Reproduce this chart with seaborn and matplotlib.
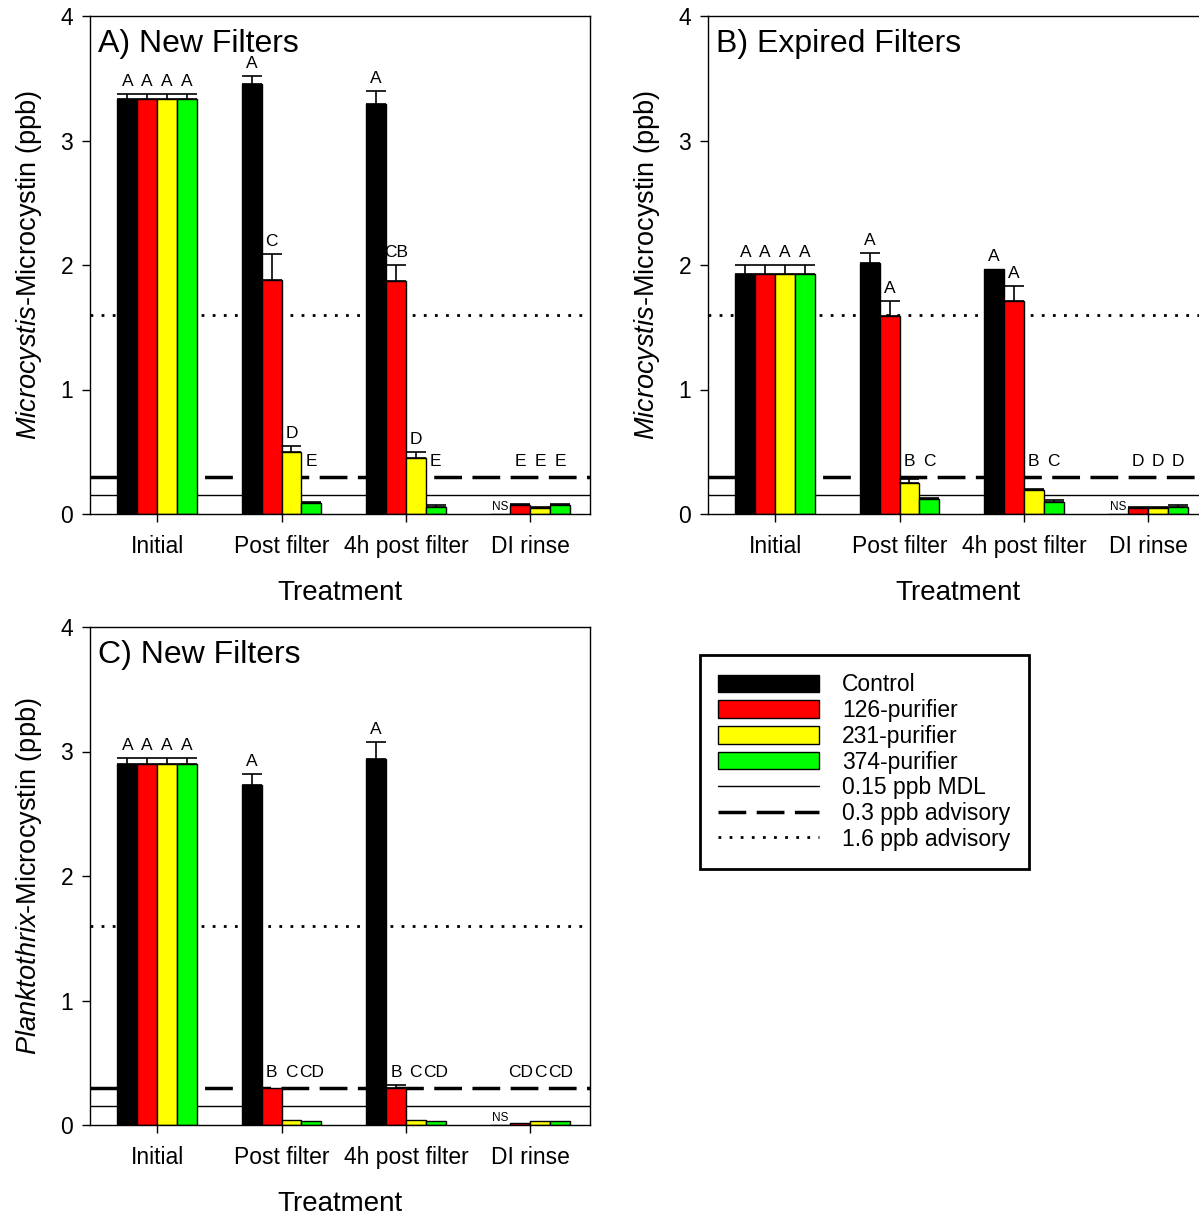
import numpy as np
import pandas as pd
import matplotlib
matplotlib.use('Agg')
import matplotlib.pyplot as plt
from matplotlib.patches import Patch
from matplotlib.lines import Line2D
import seaborn as sns

sns.set_style('ticks')
plt.rcParams['font.family'] = ['Liberation Sans', 'DejaVu Sans']
plt.rcParams['mathtext.fontset'] = 'custom'
plt.rcParams['mathtext.rm'] = 'Liberation Sans'
plt.rcParams['mathtext.it'] = 'Liberation Sans:italic'
plt.rcParams['text.color'] = 'black'
plt.rcParams['axes.labelcolor'] = 'black'
plt.rcParams['xtick.color'] = 'black'
plt.rcParams['ytick.color'] = 'black'

treatments = ['Initial', 'Post filter', '4h post filter', 'DI rinse']
filters = ['Control', '126-purifier', '231-purifier', '374-purifier']
colors = ['#000000', '#ff0000', '#ffff00', '#00ff00']

# reference levels (ppb)
mdl = 0.15
advisory_low = 0.3
advisory_high = 1.6

# rows = filter, columns = treatment
# A) Microcystis, new filters
a_vals = [[3.33, 3.45, 3.29, 0.00],
          [3.33, 1.88, 1.87, 0.07],
          [3.33, 0.50, 0.45, 0.05],
          [3.33, 0.09, 0.06, 0.07]]
a_err = [[0.04, 0.07, 0.11, 0.0],
         [0.04, 0.21, 0.13, 0.01],
         [0.04, 0.05, 0.05, 0.01],
         [0.04, 0.01, 0.01, 0.01]]
a_letters = [['A', 'A', 'A', 'NS'],
             ['A', 'C', 'CB', 'E'],
             ['A', 'D', 'D', 'E'],
             ['A', 'E', 'E', 'E']]

# B) Microcystis, expired filters
b_vals = [[1.93, 2.02, 1.97, 0.00],
          [1.93, 1.59, 1.71, 0.05],
          [1.93, 0.25, 0.19, 0.05],
          [1.93, 0.12, 0.10, 0.06]]
b_err = [[0.07, 0.08, 0.0, 0.0],
         [0.07, 0.12, 0.12, 0.01],
         [0.07, 0.03, 0.01, 0.01],
         [0.07, 0.01, 0.01, 0.01]]
b_letters = [['A', 'A', 'A', 'NS'],
             ['A', 'A', 'A', 'D'],
             ['A', 'B', 'B', 'D'],
             ['A', 'C', 'C', 'D']]

# C) Planktothrix, new filters
c_vals = [[2.90, 2.73, 2.94, 0.00],
          [2.90, 0.30, 0.30, 0.02],
          [2.90, 0.04, 0.04, 0.03],
          [2.90, 0.03, 0.03, 0.03]]
c_err = [[0.05, 0.09, 0.14, 0.0],
         [0.05, 0.0, 0.02, 0.0],
         [0.05, 0.0, 0.0, 0.0],
         [0.05, 0.0, 0.0, 0.0]]
c_letters = [['A', 'A', 'A', 'NS'],
             ['A', 'B', 'B', 'CD'],
             ['A', 'C', 'C', 'C'],
             ['A', 'CD', 'CD', 'CD']]


def draw_panel(ax, vals, errs, letters, title, ylabel):
    rows = []
    for fi, f in enumerate(filters):
        for ti, t in enumerate(treatments):
            rows.append({'Treatment': t, 'Filter': f, 'value': vals[fi][ti]})
    df = pd.DataFrame(rows)
    sns.barplot(data=df, x='Treatment', y='value', hue='Filter',
                order=treatments, hue_order=filters, palette=colors,
                width=0.64, gap=0, edgecolor='black', linewidth=1,
                saturation=1, errorbar=None, legend=False, ax=ax, zorder=2)

    bar_groups = list(ax.containers)
    for fi, cont in enumerate(bar_groups):
        for ti, bar in enumerate(cont.patches):
            x = bar.get_x() + bar.get_width() / 2
            h = bar.get_height()
            e = errs[fi][ti]
            if e > 0:
                ax.errorbar(x, h, yerr=[[0], [e]], fmt='none', ecolor='black',
                            elinewidth=1.2, capsize=7, capthick=1.2, zorder=3)
            lab = letters[fi][ti]
            if lab == 'NS':
                ax.text(x, h + 0.005, lab, fontsize=8.5, ha='center', va='bottom')
            else:
                ax.text(x, max(h + e + 0.04, 0.36), lab, fontsize=12.5,
                        ha='center', va='bottom')

    ax.axhline(mdl, color='black', lw=1, zorder=1)
    ax.axhline(advisory_low, color='black', lw=2.5, ls=(0, (8, 3)), zorder=1)
    ax.axhline(advisory_high, color='black', lw=2, ls=(0, (1, 3)), zorder=1)

    ax.set_ylim(0, 4)
    ax.set_xlim(-0.54, 3.48)
    ax.set_yticks([0, 1, 2, 3, 4])
    ax.tick_params(axis='y', labelsize=16.5, length=6, width=1, pad=6)
    ax.tick_params(axis='x', labelsize=16.5, length=6, width=1, pad=9)
    ax.set_xlabel('Treatment', fontsize=20, labelpad=16)
    ax.set_ylabel(ylabel, fontsize=19.5, labelpad=12)
    for s in ax.spines.values():
        s.set_visible(True)
        s.set_color('black')
        s.set_linewidth(1)
    ax.text(0.016, 0.943, title, transform=ax.transAxes, fontsize=23,
            ha='left', va='center')


fig = plt.figure(figsize=(11.99, 12.17), dpi=100)
W, H = 1199, 1217
ax_a = fig.add_axes([90 / W, 1 - 514 / H, 500 / W, 498 / H])
ax_b = fig.add_axes([708 / W, 1 - 514 / H, 500 / W, 498 / H])
ax_c = fig.add_axes([90 / W, 1 - 1125 / H, 500 / W, 498 / H])

myc_label = r'$\mathit{Microcystis}$-Microcystin (ppb)'
plank_label = r'$\mathit{Planktothrix}$-Microcystin (ppb)'
draw_panel(ax_a, a_vals, a_err, a_letters, 'A) New Filters', myc_label)
draw_panel(ax_b, b_vals, b_err, b_letters, 'B) Expired Filters', myc_label)
draw_panel(ax_c, c_vals, c_err, c_letters, 'C) New Filters', plank_label)

handles = [Patch(facecolor=c, edgecolor='black', linewidth=1) for c in colors]
handles += [Line2D([], [], color='black', lw=1),
            Line2D([], [], color='black', lw=2.5, ls=(0, (8, 3))),
            Line2D([], [], color='black', lw=2, ls=(0, (1, 3)))]
labels = filters + ['0.15 ppb MDL', '0.3 ppb advisory', '1.6 ppb advisory']
leg = fig.legend(handles, labels, loc='upper left',
                 bbox_to_anchor=(700 / W, 1 - 655 / H), frameon=True,
                 fancybox=False, edgecolor='black', framealpha=1,
                 fontsize=16.5, handlelength=4.4, handleheight=0.8,
                 labelspacing=0.12, borderpad=0.8, handletextpad=1.0,
                 borderaxespad=0)
leg.get_frame().set_linewidth(2)

fig.savefig('out.png', dpi=100)
